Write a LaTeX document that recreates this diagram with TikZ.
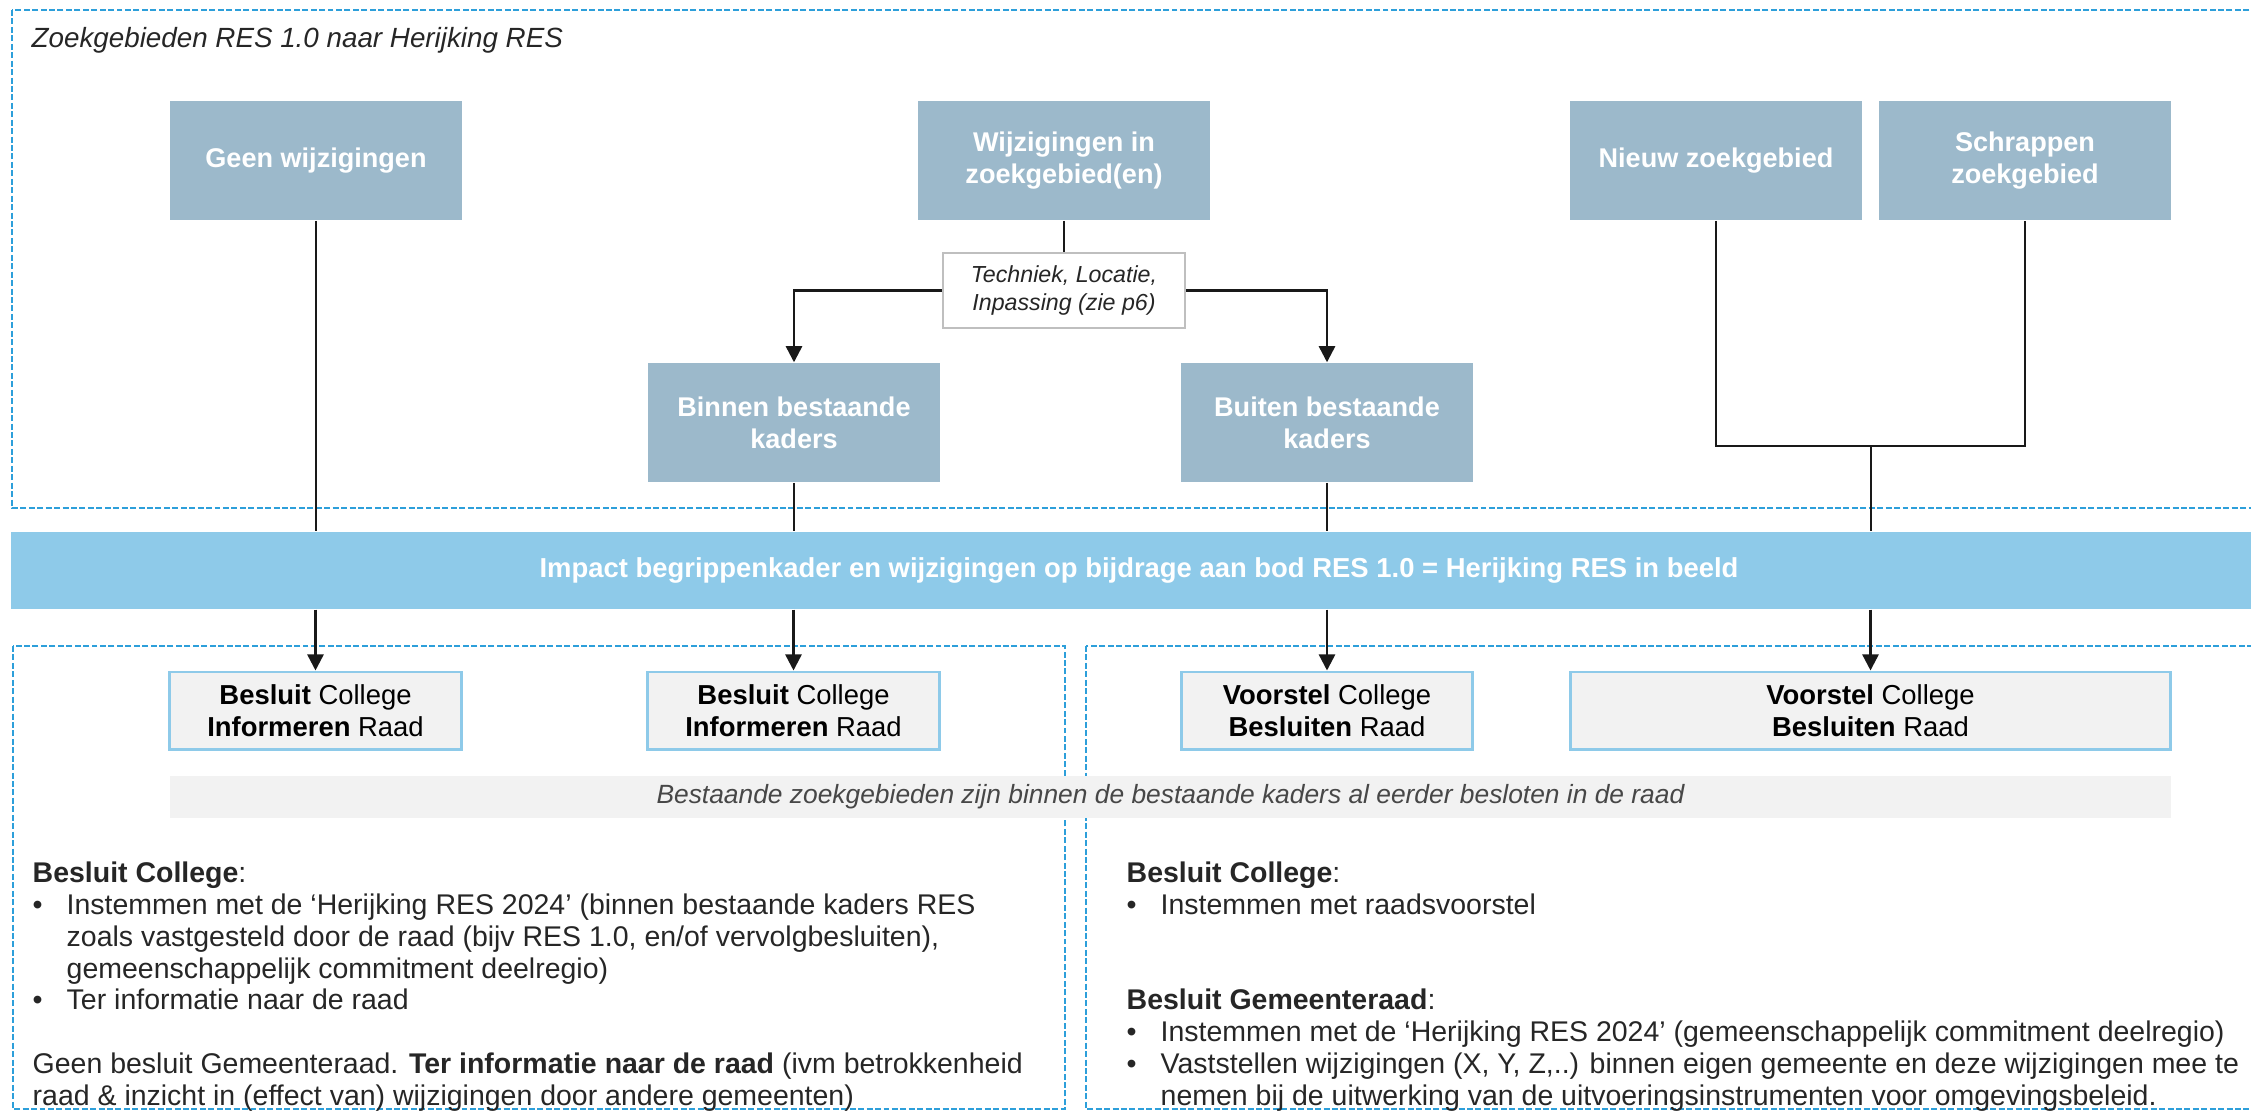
\documentclass[tikz,border=0pt]{standalone}
\usepackage{fontspec}
\setmainfont{Liberation Sans}
\usetikzlibrary{arrows.meta}

\definecolor{boxblue}{HTML}{9CB9CB}
\definecolor{bandblue}{HTML}{8ECAE9}
\definecolor{dashblue}{HTML}{2D9FDA}
\definecolor{boxgrey}{HTML}{F2F2F2}
\definecolor{techgrey}{HTML}{BFBFBF}
\definecolor{inkgrey}{HTML}{262626}

\newcommand{\bul}{\makebox[0.34cm][l]{\textbullet}}
\newcommand{\ind}{\hspace*{0.34cm}}

\begin{document}
\begin{tikzpicture}[x=0.01cm,y=-0.01cm,
	frame/.style={draw=dashblue,line width=0.5pt,dash pattern=on 1.7pt off 0.7pt},
	topbox/.style={fill=boxblue,text=white,font=\bfseries\fontsize{7.7}{9.1}\selectfont,align=center,minimum width=2.92cm,minimum height=1.19cm,inner sep=0pt},
	techbox/.style={draw=techgrey,line width=0.6pt,fill=white,text=inkgrey,font=\itshape\fontsize{6.6}{8}\selectfont,align=center,minimum width=2.42cm,minimum height=0.75cm,inner sep=0pt},
	bandbox/.style={fill=bandblue,text=white,font=\bfseries\fontsize{7.8}{9}\selectfont,minimum width=22.54cm,minimum height=0.77cm,inner sep=0pt},
	besbox/.style={draw=bandblue,line width=0.85pt,fill=boxgrey,text=black,font=\fontsize{7.8}{9.1}\selectfont,align=center,minimum height=0.77cm,inner sep=0pt},
	noteband/.style={fill=boxgrey,text=inkgrey!85,font=\itshape\fontsize{7.5}{9}\selectfont,minimum width=19.99cm,minimum height=0.42cm,inner sep=0pt},
	txtblock/.style={anchor=base west,align=left,inner sep=0pt,text=inkgrey,font=\fontsize{8.1}{9.02}\selectfont},
	con/.style={draw=black!90,line width=0.7pt},
	arr/.style={con,-{Triangle[length=4.6pt,width=4.6pt]}}
	]
	\useasboundingbox (0,0) rectangle (2251,1111);
	
	% dashed frames
	\draw[frame] (12,10) rectangle (2270,508);
	\draw[frame] (13,646) rectangle (1065,1109);
	\draw[frame] (1086,646) rectangle (2270,1109);
	
	\node[anchor=base west,inner sep=0pt,text=inkgrey,font=\itshape\fontsize{7.9}{9}\selectfont] (title) at (31,47) {Zoekgebieden RES 1.0 naar Herijking RES};
	
	% top row
	\node[topbox] (geen) at (316,160.5) {Geen wijzigingen};
	\node[topbox] (wijz) at (1064,160.5) {Wijzigingen in\\zoekgebied(en)};
	\node[topbox] (nieuw) at (1716,160.5) {Nieuw zoekgebied};
	\node[topbox] (schrap) at (2025,160.5) {Schrappen\\zoekgebied};
	
	\node[techbox] (tech) at (1064,290.5) {Techniek, Locatie,\\Inpassing (zie p6)};
	
	\node[topbox] (binnen) at (794,422.5) {Binnen bestaande\\kaders};
	\node[topbox] (buiten) at (1327,422.5) {Buiten bestaande\\kaders};
	
	\coordinate (join) at (1871,446);
	
	% band
	\node[bandbox] (band) at (1139,570.5) {Impact begrippenkader en wijzigingen op bijdrage aan bod RES 1.0 = Herijking RES in beeld};
	
	% decisions
	\node[besbox,minimum width=2.91cm] (besA) at (315.5,710.5) {\textbf{Besluit} College\\\textbf{Informeren} Raad};
	\node[besbox,minimum width=2.91cm] (besB) at (793.5,710.5) {\textbf{Besluit} College\\\textbf{Informeren} Raad};
	\node[besbox,minimum width=2.90cm] (voorA) at (1327,710.5) {\textbf{Voorstel} College\\\textbf{Besluiten} Raad};
	\node[besbox,minimum width=5.99cm] (voorB) at (1870.5,710.5) {\textbf{Voorstel} College\\\textbf{Besluiten} Raad};
	
	\node[noteband] (note) at (1170.5,797) {Bestaande zoekgebieden zijn binnen de bestaande kaders al eerder besloten in de raad};
	
	% base of last line
	\node[txtblock] (lefttxt) at (32,1105) {\textbf{Besluit College}:\\
		\bul Instemmen met de ‘Herijking RES 2024’ (binnen bestaande kaders RES\\
		\ind zoals vastgesteld door de raad (bijv RES 1.0, en/of vervolgbesluiten),\\
		\ind gemeenschappelijk commitment deelregio)\\
		\bul Ter informatie naar de raad\\
		\mbox{}\\
		Geen besluit Gemeenteraad. \textbf{Ter informatie naar de raad} (ivm betrokkenheid\\
		raad \& inzicht in (effect van) wijzigingen door andere gemeenten)};
	
	\node[txtblock] (righttxt) at (1126,1105) {\textbf{Besluit College}:\\
		\bul Instemmen met raadsvoorstel\\
		\mbox{}\\
		\mbox{}\\
		\textbf{Besluit Gemeenteraad}:\\
		\bul Instemmen met de ‘Herijking RES 2024’ (gemeenschappelijk commitment deelregio)\\
		\bul Vaststellen wijzigingen (X, Y, Z,..) binnen eigen gemeente en deze wijzigingen mee te\\
		\ind nemen bij de uitwerking van de uitvoeringsinstrumenten voor omgevingsbeleid.};
	
	% connectors
	\draw[con] (wijz) -- (tech);
	\draw[arr] (tech.west) -| (binnen.north);
	\draw[arr] (tech.east) -| (buiten.north);
	\draw[con] (nieuw.south) |- (join) -| (schrap.south);
	
	\draw[con] (geen.south) -- (geen.south |- band.north);
	\draw[con] (binnen.south) -- (binnen.south |- band.north);
	\draw[con] (buiten.south) -- (buiten.south |- band.north);
	\draw[con] (join) -- (join |- band.north);
	
	\draw[arr] (besA.north |- band.south) -- (besA.north);
	\draw[arr] (besB.north |- band.south) -- (besB.north);
	\draw[arr] (voorA.north |- band.south) -- (voorA.north);
	\draw[arr] (voorB.north |- band.south) -- (voorB.north);
\end{tikzpicture}
\end{document}
